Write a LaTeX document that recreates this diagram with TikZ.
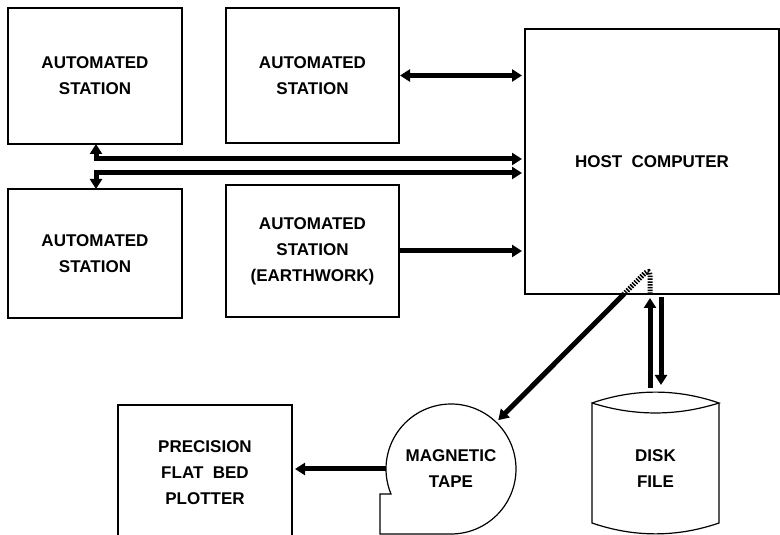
\documentclass[tikz,border=0pt]{standalone}
\usepackage{fontspec}
\setmainfont{Liberation Sans}
\usetikzlibrary{arrows.meta,calc}
\begin{document}
\begin{tikzpicture}[x=1pt,y=1pt,
		box/.style={draw, line width=1.2pt, inner sep=0pt, outer sep=0pt, align=center, font=\fontsize{17}{26}\selectfont\bfseries},
		lbl/.style={inner sep=0pt, outer sep=0pt, align=center, font=\fontsize{17}{26}\selectfont\bfseries},
		arr/.style={-{Triangle[length=10pt,width=12pt]}, line width=5pt},
		dbl/.style={{Triangle[length=10pt,width=12pt]}-{Triangle[length=10pt,width=12pt]}, line width=5pt},
		hatch/.style={line width=5pt, dash pattern=on 1.5pt off 1.3pt}]
	\useasboundingbox (0,0) rectangle (780,535);
	\node[box, minimum width=174pt, minimum height=136pt] (stationA) at(95,459) {AUTOMATED\\STATION};
	\node[box, minimum width=173pt, minimum height=135pt] (stationB) at(312.5,459.5) {AUTOMATED\\STATION};
	\node[box, minimum width=174pt, minimum height=129pt] (stationC) at(95,281.5) {AUTOMATED\\STATION};
	\node[box, minimum width=173pt, minimum height=132pt] (earthwork) at(312.5,284) {AUTOMATED\\STATION\\(EARTHWORK)};
	\node[box, minimum width=254pt, minimum height=265pt] (host) at(652,373.5) {HOST\ \ COMPUTER};
	\node[box, minimum width=174pt, minimum height=135pt] (plotter) at(205,62.5) {PRECISION\\FLAT\ \ BED\\PLOTTER};
	\node[lbl, circle, minimum size=130pt] (tape) at(451,66) {MAGNETIC\\TAPE};
	\node[lbl, minimum width=127pt, minimum height=132pt] (disk) at(655.5,66) {DISK\\FILE};
	\draw[line width=1.2pt] (tape.south) arc[start angle=-90, end angle=202.6, radius=65pt] -- ++(-11,0) |- (tape.south);
	\draw[line width=1.2pt] (disk.north west) .. controls +(42,14.5) and +(-42,14.5) .. (disk.north east)
		.. controls +(-42,-13.3) and +(42,-13.3) .. (disk.north west) -- ($(disk.south west)+(0,12)$)
		.. controls +(42,-14.5) and +(-42,-14.5) .. ($(disk.south east)+(0,12)$) -- (disk.north east);
	\draw[dbl, shorten <=1pt, shorten >=3pt] (stationB.east) -- (stationB.east -| host.west);
	\draw[dbl, shorten >=3pt] ([xshift=1pt]stationA.south) |- ($(host.west)+(0,2.5)$);
	\draw[dbl, shorten >=3pt] ([xshift=1pt]stationC.north) |- ($(host.west)+(0,-11.5)$);
	\draw[arr, shorten <=1pt, shorten >=3pt] (earthwork.east) -- (earthwork.east -| host.west);
	\draw[arr, shorten >=4pt] ($(disk.north)+(-5.5,15)$) -- ($(host.south)+(-2,0)$);
	\draw[arr, shorten >=2pt] ($(host.south)+(9,-3)$) -- ($(disk.north)+(5.5,16)$);
	\coordinate (bend) at ($(host.south)+(-2,26)$);
	\draw[hatch, rounded corners=7pt] ($(host.south)+(-2,0)$) -- (bend) -- ($(bend)+(-26,-26)$);
	\draw[arr, shorten >=3pt] ($(bend)+(-26,-26)$) -- (tape.46);
	\draw[arr, shorten >=3pt] (tape.west) -- (tape.west -| plotter.east);
\end{tikzpicture}
\end{document}
